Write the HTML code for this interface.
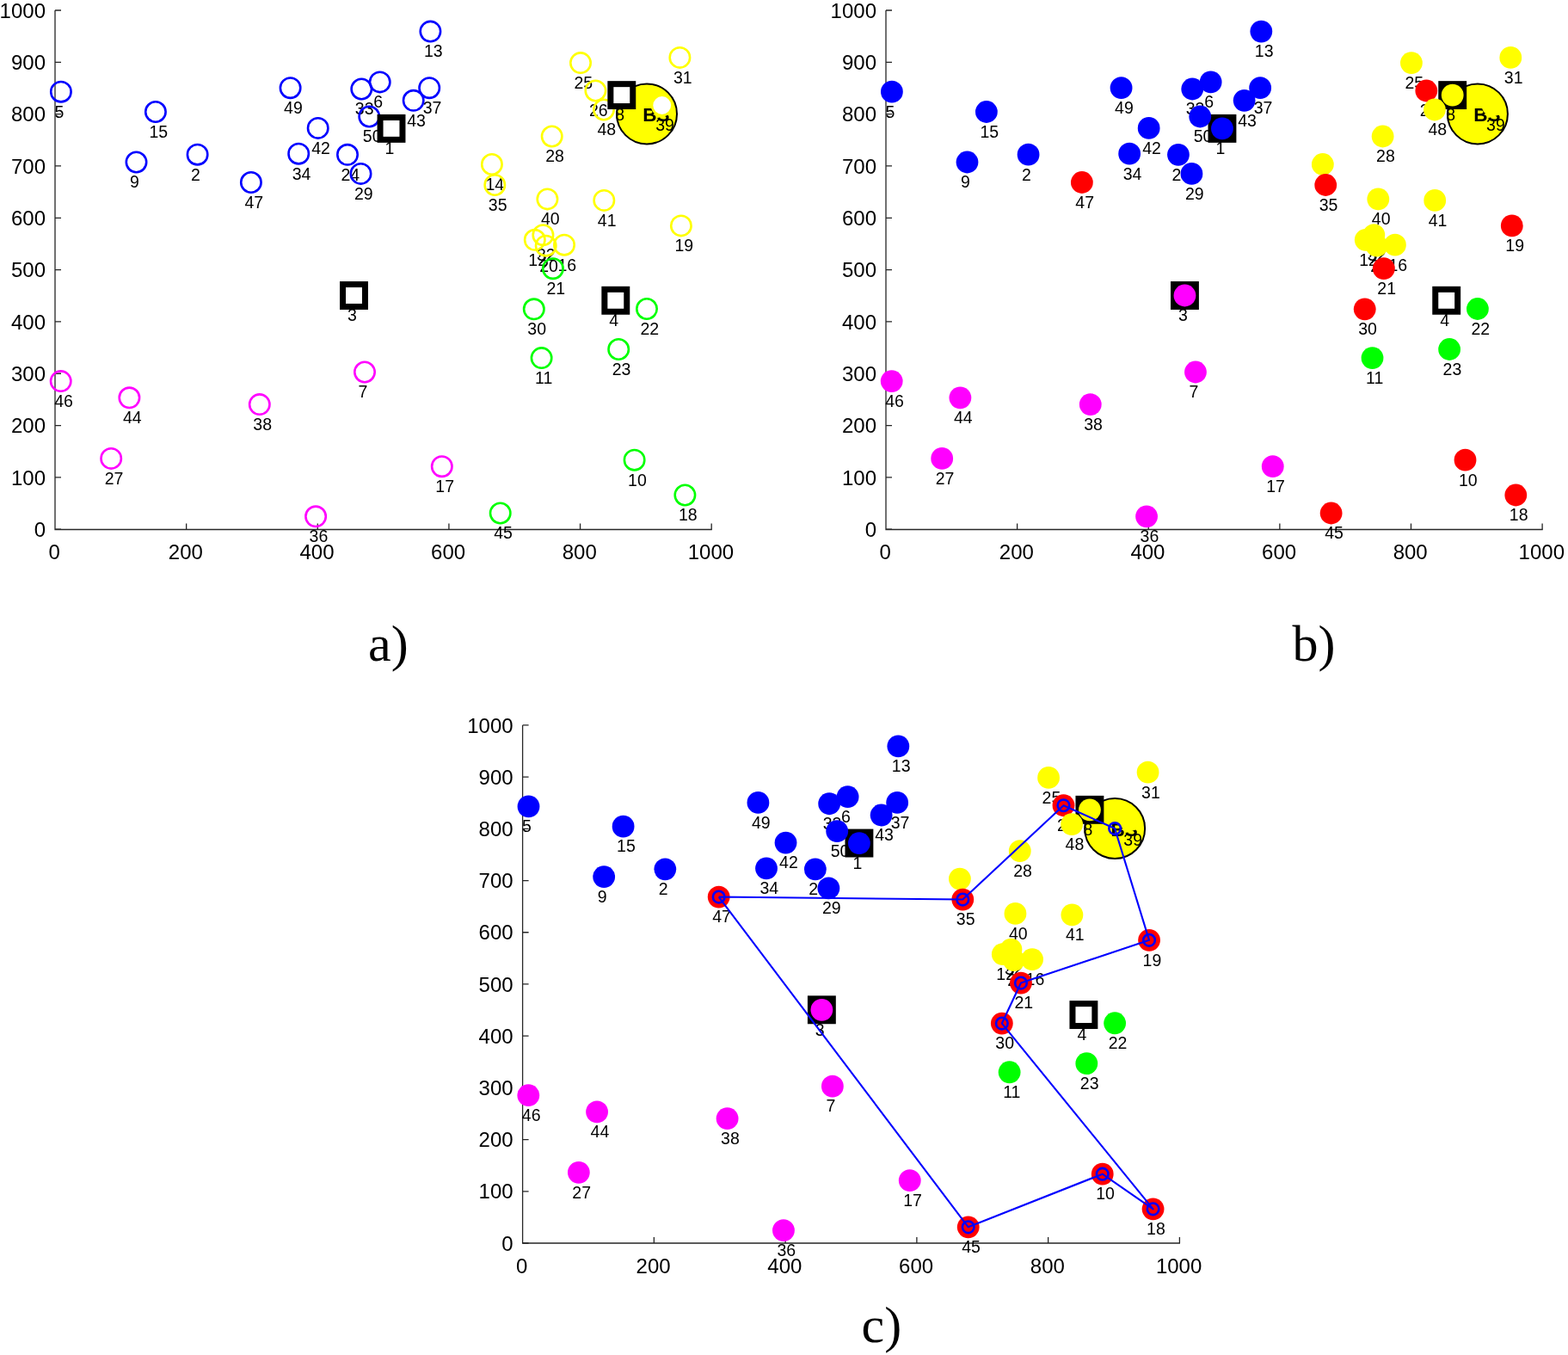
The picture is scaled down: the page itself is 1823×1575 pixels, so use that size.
<!DOCTYPE html>
<html><head><meta charset="utf-8"><title>Clustering figure</title>
<style>
html,body{margin:0;padding:0;background:#fff;}
body{width:1823px;height:1575px;overflow:hidden;}
svg{display:block;font-family:"Liberation Sans",sans-serif;}
</style></head><body>
<svg width="1823" height="1575" viewBox="0 0 1823 1575">
<rect width="1823" height="1575" fill="#fff"/>
<path d="M64 12V615.5H827.8" fill="none" stroke="#262626" stroke-width="1.3"/>
<path d="M64 615.2h7M64 554.88h7M64 494.56h7M64 434.24h7M64 373.92h7M64 313.6h7M64 253.28h7M64 192.96h7M64 132.64h7M64 72.32h7M64 12h7M216.64 615.5v-7M369.28 615.5v-7M521.92 615.5v-7M674.56 615.5v-7M827.2 615.5v-7" stroke="#262626" stroke-width="1.3"/>
<g font-size="24" fill="#000"><text x="53" y="623.9" text-anchor="end">0</text><text x="53" y="563.58" text-anchor="end">100</text><text x="53" y="503.26" text-anchor="end">200</text><text x="53" y="442.94" text-anchor="end">300</text><text x="53" y="382.62" text-anchor="end">400</text><text x="53" y="322.3" text-anchor="end">500</text><text x="53" y="261.98" text-anchor="end">600</text><text x="53" y="201.66" text-anchor="end">700</text><text x="53" y="141.34" text-anchor="end">800</text><text x="53" y="81.02" text-anchor="end">900</text><text x="53" y="20.7" text-anchor="end">1000</text><text x="63.2" y="650.3" text-anchor="middle">0</text><text x="215.84" y="650.3" text-anchor="middle">200</text><text x="368.48" y="650.3" text-anchor="middle">400</text><text x="521.12" y="650.3" text-anchor="middle">600</text><text x="673.76" y="650.3" text-anchor="middle">800</text><text x="826.4" y="650.3" text-anchor="middle">1000</text></g>
<circle cx="752" cy="132.4" r="35.0" fill="#ffff00" stroke="#000" stroke-width="2.0"/><text x="747.3" y="141.4" font-size="22.5" font-weight="bold" fill="#000">BS</text>
<g font-size="19.5" fill="#000"><text x="447.5" y="179.2">1</text><text x="222.1" y="209.5">2</text><text x="404" y="373.3">3</text><text x="708.3" y="379.1">4</text><text x="63.4" y="136.5">5</text><text x="434.2" y="125.2">6</text><text x="416.5" y="462.3">7</text><text x="715.3" y="140.4">8</text><text x="151" y="218.3">9</text><text x="730.1" y="564.5">10</text><text x="622.1" y="445.9">11</text><text x="614.3" y="308.6">12</text><text x="492.9" y="66.4">13</text><text x="564.4" y="220.8">14</text><text x="173.4" y="159.8">15</text><text x="648.5" y="314.5">16</text><text x="506.3" y="572">17</text><text x="788.9" y="605.3">18</text><text x="784.4" y="292.2">19</text><text x="627.2" y="315.5">20</text><text x="635.4" y="342">21</text><text x="744.5" y="388.8">22</text><text x="711.7" y="435.8">23</text><text x="396.5" y="209.6">24</text><text x="667.5" y="102.9">25</text><text x="684.9" y="135.3">26</text><text x="121.7" y="562.7">27</text><text x="634.2" y="188.3">28</text><text x="412" y="231.7">29</text><text x="613.3" y="389.1">30</text><text x="782.9" y="96.7">31</text><text x="623.9" y="303">32</text><text x="412.8" y="133.3">33</text><text x="339.7" y="208.5">34</text><text x="567.8" y="244.8">35</text><text x="359.6" y="630.1">36</text><text x="491.7" y="132">37</text><text x="294.3" y="499.9">38</text><text x="762.2" y="152.3">39</text><text x="628.9" y="261.2">40</text><text x="694.8" y="262.7">41</text><text x="362.2" y="178.7">42</text><text x="473.2" y="146.6">43</text><text x="142.9" y="492.1">44</text><text x="574.2" y="626.3">45</text><text x="63.2" y="472.9">46</text><text x="284.4" y="241.8">47</text><text x="694.5" y="157.3">48</text><text x="330.1" y="132">49</text><text x="421.8" y="165.3">50</text></g>
<g stroke-width="2.6"><circle cx="229.6" cy="179.7" r="11.7" fill="none" stroke="#0000ff"/><circle cx="70.9" cy="106.7" r="11.7" fill="none" stroke="#0000ff"/><circle cx="441.7" cy="95.4" r="11.7" fill="none" stroke="#0000ff"/><circle cx="424" cy="432.5" r="11.7" fill="none" stroke="#ff00ff"/><circle cx="158.5" cy="188.5" r="11.7" fill="none" stroke="#0000ff"/><circle cx="737.6" cy="534.7" r="11.7" fill="none" stroke="#00ff00"/><circle cx="629.6" cy="416.1" r="11.7" fill="none" stroke="#00ff00"/><circle cx="621.8" cy="278.8" r="11.7" fill="none" stroke="#ffff00"/><circle cx="500.4" cy="36.6" r="11.7" fill="none" stroke="#0000ff"/><circle cx="571.9" cy="191" r="11.7" fill="none" stroke="#ffff00"/><circle cx="180.9" cy="130" r="11.7" fill="none" stroke="#0000ff"/><circle cx="656" cy="284.7" r="11.7" fill="none" stroke="#ffff00"/><circle cx="513.8" cy="542.2" r="11.7" fill="none" stroke="#ff00ff"/><circle cx="796.4" cy="575.5" r="11.7" fill="none" stroke="#00ff00"/><circle cx="791.9" cy="262.4" r="11.7" fill="none" stroke="#ffff00"/><circle cx="634.7" cy="285.7" r="11.7" fill="none" stroke="#ffff00"/><circle cx="642.9" cy="312.2" r="11.7" fill="none" stroke="#00ff00"/><circle cx="752" cy="359" r="11.7" fill="none" stroke="#00ff00"/><circle cx="719.2" cy="406" r="11.7" fill="none" stroke="#00ff00"/><circle cx="404" cy="179.8" r="11.7" fill="none" stroke="#0000ff"/><circle cx="675" cy="73.1" r="11.7" fill="none" stroke="#ffff00"/><circle cx="692.4" cy="105.5" r="11.7" fill="none" stroke="#ffff00"/><circle cx="129.2" cy="532.9" r="11.7" fill="none" stroke="#ff00ff"/><circle cx="641.7" cy="158.5" r="11.7" fill="none" stroke="#ffff00"/><circle cx="419.5" cy="201.9" r="11.7" fill="none" stroke="#0000ff"/><circle cx="620.8" cy="359.3" r="11.7" fill="none" stroke="#00ff00"/><circle cx="790.4" cy="66.9" r="11.7" fill="none" stroke="#ffff00"/><circle cx="631.4" cy="273.2" r="11.7" fill="none" stroke="#ffff00"/><circle cx="420.3" cy="103.5" r="11.7" fill="none" stroke="#0000ff"/><circle cx="347.2" cy="178.7" r="11.7" fill="none" stroke="#0000ff"/><circle cx="575.3" cy="215" r="11.7" fill="none" stroke="#ffff00"/><circle cx="367.1" cy="600.3" r="11.7" fill="none" stroke="#ff00ff"/><circle cx="499.2" cy="102.2" r="11.7" fill="none" stroke="#0000ff"/><circle cx="301.8" cy="470.1" r="11.7" fill="none" stroke="#ff00ff"/><circle cx="769.7" cy="122.5" r="11.7" fill="#fff" stroke="#ffff00"/><circle cx="636.4" cy="231.4" r="11.7" fill="none" stroke="#ffff00"/><circle cx="702.3" cy="232.9" r="11.7" fill="none" stroke="#ffff00"/><circle cx="369.7" cy="148.9" r="11.7" fill="none" stroke="#0000ff"/><circle cx="480.7" cy="116.8" r="11.7" fill="none" stroke="#0000ff"/><circle cx="150.4" cy="462.3" r="11.7" fill="none" stroke="#ff00ff"/><circle cx="581.7" cy="596.5" r="11.7" fill="none" stroke="#00ff00"/><circle cx="70.7" cy="443.1" r="11.7" fill="none" stroke="#ff00ff"/><circle cx="291.9" cy="212" r="11.7" fill="none" stroke="#0000ff"/><circle cx="702" cy="127.5" r="11.7" fill="none" stroke="#ffff00"/><circle cx="337.6" cy="102.2" r="11.7" fill="none" stroke="#0000ff"/><circle cx="429.3" cy="135.5" r="11.7" fill="none" stroke="#0000ff"/></g>
<g fill="#fff" stroke="#000" stroke-width="7.0"><rect x="442.05" y="136.45" width="25.9" height="25.9"/><rect x="398.55" y="330.55" width="25.9" height="25.9"/><rect x="702.85" y="336.35" width="25.9" height="25.9"/><rect x="709.85" y="97.65" width="25.9" height="25.9"/></g>
<path d="M1030 12V615.5H1793.7" fill="none" stroke="#262626" stroke-width="1.3"/>
<path d="M1030 615.2h7M1030 554.88h7M1030 494.56h7M1030 434.24h7M1030 373.92h7M1030 313.6h7M1030 253.28h7M1030 192.96h7M1030 132.64h7M1030 72.32h7M1030 12h7M1182.62 615.5v-7M1335.24 615.5v-7M1487.86 615.5v-7M1640.48 615.5v-7M1793.1 615.5v-7" stroke="#262626" stroke-width="1.3"/>
<g font-size="24" fill="#000"><text x="1019" y="623.9" text-anchor="end">0</text><text x="1019" y="563.58" text-anchor="end">100</text><text x="1019" y="503.26" text-anchor="end">200</text><text x="1019" y="442.94" text-anchor="end">300</text><text x="1019" y="382.62" text-anchor="end">400</text><text x="1019" y="322.3" text-anchor="end">500</text><text x="1019" y="261.98" text-anchor="end">600</text><text x="1019" y="201.66" text-anchor="end">700</text><text x="1019" y="141.34" text-anchor="end">800</text><text x="1019" y="81.02" text-anchor="end">900</text><text x="1019" y="20.7" text-anchor="end">1000</text><text x="1029.2" y="650.3" text-anchor="middle">0</text><text x="1181.82" y="650.3" text-anchor="middle">200</text><text x="1334.44" y="650.3" text-anchor="middle">400</text><text x="1487.06" y="650.3" text-anchor="middle">600</text><text x="1639.68" y="650.3" text-anchor="middle">800</text><text x="1792.3" y="650.3" text-anchor="middle">1000</text></g>
<circle cx="1717.91" cy="132.4" r="35.0" fill="#ffff00" stroke="#000" stroke-width="2.0"/><text x="1713.21" y="141.4" font-size="22.5" font-weight="bold" fill="#000">BS</text>
<g font-size="19.5" fill="#000"><text x="1413.45" y="179.2">1</text><text x="1188.08" y="209.5">2</text><text x="1369.95" y="373.3">3</text><text x="1674.21" y="379.1">4</text><text x="1029.4" y="136.5">5</text><text x="1400.15" y="125.2">6</text><text x="1382.45" y="462.3">7</text><text x="1681.21" y="140.4">8</text><text x="1116.99" y="218.3">9</text><text x="1696.01" y="564.5">10</text><text x="1588.03" y="445.9">11</text><text x="1580.23" y="308.6">12</text><text x="1458.84" y="66.4">13</text><text x="1530.33" y="220.8">14</text><text x="1139.38" y="159.8">15</text><text x="1614.42" y="314.5">16</text><text x="1472.24" y="572">17</text><text x="1754.8" y="605.3">18</text><text x="1750.3" y="292.2">19</text><text x="1593.13" y="315.5">20</text><text x="1601.32" y="342">21</text><text x="1710.41" y="388.8">22</text><text x="1677.61" y="435.8">23</text><text x="1362.46" y="209.6">24</text><text x="1633.42" y="102.9">25</text><text x="1650.82" y="135.3">26</text><text x="1087.69" y="562.7">27</text><text x="1600.12" y="188.3">28</text><text x="1377.95" y="231.7">29</text><text x="1579.23" y="389.1">30</text><text x="1748.8" y="96.7">31</text><text x="1589.83" y="303">32</text><text x="1378.75" y="133.3">33</text><text x="1305.66" y="208.5">34</text><text x="1533.73" y="244.8">35</text><text x="1325.56" y="630.1">36</text><text x="1457.64" y="132">37</text><text x="1260.27" y="499.9">38</text><text x="1728.11" y="152.3">39</text><text x="1594.82" y="261.2">40</text><text x="1660.72" y="262.7">41</text><text x="1328.16" y="178.7">42</text><text x="1439.15" y="146.6">43</text><text x="1108.89" y="492.1">44</text><text x="1540.13" y="626.3">45</text><text x="1029.2" y="472.9">46</text><text x="1250.37" y="241.8">47</text><text x="1660.42" y="157.3">48</text><text x="1296.06" y="132">49</text><text x="1387.75" y="165.3">50</text></g>
<g fill="#fff" stroke="#000" stroke-width="7.0"><rect x="1408" y="136.45" width="25.9" height="25.9" fill="#000"/><rect x="1364.5" y="330.55" width="25.9" height="25.9" fill="#000"/><rect x="1668.76" y="336.35" width="25.9" height="25.9"/><rect x="1675.76" y="97.65" width="25.9" height="25.9" fill="#000"/></g>
<g><circle cx="1420.95" cy="149.4" r="12.9" fill="#0000ff"/><circle cx="1195.58" cy="179.7" r="12.9" fill="#0000ff"/><circle cx="1377.45" cy="343.5" r="12.9" fill="#ff00ff"/><circle cx="1036.9" cy="106.7" r="12.9" fill="#0000ff"/><circle cx="1407.65" cy="95.4" r="12.9" fill="#0000ff"/><circle cx="1389.95" cy="432.5" r="12.9" fill="#ff00ff"/><circle cx="1688.71" cy="110.6" r="12.9" fill="#ffff00"/><circle cx="1124.49" cy="188.5" r="12.9" fill="#0000ff"/><circle cx="1703.51" cy="534.7" r="12.9" fill="#ff0000"/><circle cx="1595.53" cy="416.1" r="12.9" fill="#00ff00"/><circle cx="1587.73" cy="278.8" r="12.9" fill="#ffff00"/><circle cx="1466.34" cy="36.6" r="12.9" fill="#0000ff"/><circle cx="1537.83" cy="191" r="12.9" fill="#ffff00"/><circle cx="1146.88" cy="130" r="12.9" fill="#0000ff"/><circle cx="1621.92" cy="284.7" r="12.9" fill="#ffff00"/><circle cx="1479.74" cy="542.2" r="12.9" fill="#ff00ff"/><circle cx="1762.3" cy="575.5" r="12.9" fill="#ff0000"/><circle cx="1757.8" cy="262.4" r="12.9" fill="#ff0000"/><circle cx="1600.63" cy="285.7" r="12.9" fill="#ffff00"/><circle cx="1608.82" cy="312.2" r="12.9" fill="#ff0000"/><circle cx="1717.91" cy="359" r="12.9" fill="#00ff00"/><circle cx="1685.11" cy="406" r="12.9" fill="#00ff00"/><circle cx="1369.96" cy="179.8" r="12.9" fill="#0000ff"/><circle cx="1640.92" cy="73.1" r="12.9" fill="#ffff00"/><circle cx="1658.32" cy="105.5" r="12.9" fill="#ff0000"/><circle cx="1095.19" cy="532.9" r="12.9" fill="#ff00ff"/><circle cx="1607.62" cy="158.5" r="12.9" fill="#ffff00"/><circle cx="1385.45" cy="201.9" r="12.9" fill="#0000ff"/><circle cx="1586.73" cy="359.3" r="12.9" fill="#ff0000"/><circle cx="1756.3" cy="66.9" r="12.9" fill="#ffff00"/><circle cx="1597.33" cy="273.2" r="12.9" fill="#ffff00"/><circle cx="1386.25" cy="103.5" r="12.9" fill="#0000ff"/><circle cx="1313.16" cy="178.7" r="12.9" fill="#0000ff"/><circle cx="1541.23" cy="215" r="12.9" fill="#ff0000"/><circle cx="1333.06" cy="600.3" r="12.9" fill="#ff00ff"/><circle cx="1465.14" cy="102.2" r="12.9" fill="#0000ff"/><circle cx="1267.77" cy="470.1" r="12.9" fill="#ff00ff"/><circle cx="1735.61" cy="122.5" r="12.9" fill="#ffff00"/><circle cx="1602.32" cy="231.4" r="12.9" fill="#ffff00"/><circle cx="1668.22" cy="232.9" r="12.9" fill="#ffff00"/><circle cx="1335.66" cy="148.9" r="12.9" fill="#0000ff"/><circle cx="1446.65" cy="116.8" r="12.9" fill="#0000ff"/><circle cx="1116.39" cy="462.3" r="12.9" fill="#ff00ff"/><circle cx="1547.63" cy="596.5" r="12.9" fill="#ff0000"/><circle cx="1036.7" cy="443.1" r="12.9" fill="#ff00ff"/><circle cx="1257.87" cy="212" r="12.9" fill="#ff0000"/><circle cx="1667.92" cy="127.5" r="12.9" fill="#ffff00"/><circle cx="1303.56" cy="102.2" r="12.9" fill="#0000ff"/><circle cx="1395.25" cy="135.5" r="12.9" fill="#0000ff"/></g>
<path d="M607.6 842.9V1445H1372" fill="none" stroke="#262626" stroke-width="1.3"/>
<path d="M607.6 1445h7M607.6 1384.79h7M607.6 1324.58h7M607.6 1264.37h7M607.6 1204.16h7M607.6 1143.95h7M607.6 1083.74h7M607.6 1023.53h7M607.6 963.32h7M607.6 903.11h7M607.6 842.9h7M760.36 1445v-7M913.12 1445v-7M1065.88 1445v-7M1218.64 1445v-7M1371.4 1445v-7" stroke="#262626" stroke-width="1.3"/>
<g font-size="24" fill="#000"><text x="596.6" y="1453.7" text-anchor="end">0</text><text x="596.6" y="1393.49" text-anchor="end">100</text><text x="596.6" y="1333.28" text-anchor="end">200</text><text x="596.6" y="1273.07" text-anchor="end">300</text><text x="596.6" y="1212.86" text-anchor="end">400</text><text x="596.6" y="1152.65" text-anchor="end">500</text><text x="596.6" y="1092.44" text-anchor="end">600</text><text x="596.6" y="1032.23" text-anchor="end">700</text><text x="596.6" y="972.02" text-anchor="end">800</text><text x="596.6" y="911.81" text-anchor="end">900</text><text x="596.6" y="851.6" text-anchor="end">1000</text><text x="606.8" y="1480.1" text-anchor="middle">0</text><text x="759.56" y="1480.1" text-anchor="middle">200</text><text x="912.32" y="1480.1" text-anchor="middle">400</text><text x="1065.08" y="1480.1" text-anchor="middle">600</text><text x="1217.84" y="1480.1" text-anchor="middle">800</text><text x="1370.6" y="1480.1" text-anchor="middle">1000</text></g>
<circle cx="1296.14" cy="963.08" r="35.0" fill="#ffff00" stroke="#000" stroke-width="2.0"/><text x="1291.44" y="972.08" font-size="22.5" font-weight="bold" fill="#000">BS</text>
<g font-size="19.5" fill="#000"><text x="991.41" y="1009.85">1</text><text x="765.83" y="1040.09">2</text><text x="947.87" y="1203.6">3</text><text x="1252.41" y="1209.38">4</text><text x="607.01" y="967.23">5</text><text x="978.1" y="955.95">6</text><text x="960.38" y="1292.43">7</text><text x="1259.42" y="971.12">8</text><text x="694.67" y="1048.88">9</text><text x="1274.23" y="1394.45">10</text><text x="1166.14" y="1276.06">11</text><text x="1158.34" y="1139.01">12</text><text x="1036.84" y="897.26">13</text><text x="1108.4" y="1051.37">14</text><text x="717.09" y="990.48">15</text><text x="1192.57" y="1144.9">16</text><text x="1050.25" y="1401.93">17</text><text x="1333.08" y="1435.17">18</text><text x="1328.57" y="1122.64">19</text><text x="1171.25" y="1145.9">20</text><text x="1179.46" y="1172.35">21</text><text x="1288.64" y="1219.07">22</text><text x="1255.82" y="1265.98">23</text><text x="940.37" y="1040.19">24</text><text x="1211.58" y="933.69">25</text><text x="1228.99" y="966.03">26</text><text x="665.35" y="1392.65">27</text><text x="1178.25" y="1018.93">28</text><text x="955.88" y="1062.25">29</text><text x="1157.34" y="1219.37">30</text><text x="1327.07" y="927.5">31</text><text x="1167.95" y="1133.42">32</text><text x="956.68" y="964.03">33</text><text x="883.52" y="1039.1">34</text><text x="1111.8" y="1075.33">35</text><text x="903.44" y="1459.93">36</text><text x="1035.64" y="962.74">37</text><text x="838.09" y="1329.96">38</text><text x="1306.35" y="983">39</text><text x="1172.95" y="1091.7">40</text><text x="1238.9" y="1093.2">41</text><text x="906.04" y="1009.35">42</text><text x="1017.13" y="977.31">43</text><text x="686.57" y="1322.18">44</text><text x="1118.21" y="1456.13">45</text><text x="606.81" y="1303.01">46</text><text x="828.18" y="1072.34">47</text><text x="1238.6" y="987.99">48</text><text x="873.92" y="962.74">49</text><text x="965.69" y="995.97">50</text></g>
<g fill="#fff" stroke="#000" stroke-width="7.0"><rect x="985.96" y="967.1" width="25.9" height="25.9" fill="#000"/><rect x="942.42" y="1160.85" width="25.9" height="25.9" fill="#000"/><rect x="1246.96" y="1166.63" width="25.9" height="25.9"/><rect x="1253.97" y="928.37" width="25.9" height="25.9" fill="#000"/></g>
<g><circle cx="998.91" cy="980.05" r="12.9" fill="#0000ff"/><circle cx="773.33" cy="1010.29" r="12.9" fill="#0000ff"/><circle cx="955.37" cy="1173.8" r="12.9" fill="#ff00ff"/><circle cx="614.51" cy="937.43" r="12.9" fill="#0000ff"/><circle cx="985.6" cy="926.15" r="12.9" fill="#0000ff"/><circle cx="967.88" cy="1262.63" r="12.9" fill="#ff00ff"/><circle cx="1266.92" cy="941.32" r="12.9" fill="#ffff00"/><circle cx="702.17" cy="1019.08" r="12.9" fill="#0000ff"/><circle cx="1281.73" cy="1364.65" r="12.9" fill="#ff0000"/><circle cx="1173.64" cy="1246.26" r="12.9" fill="#00ff00"/><circle cx="1165.84" cy="1109.21" r="12.9" fill="#ffff00"/><circle cx="1044.34" cy="867.46" r="12.9" fill="#0000ff"/><circle cx="1115.9" cy="1021.57" r="12.9" fill="#ffff00"/><circle cx="724.59" cy="960.68" r="12.9" fill="#0000ff"/><circle cx="1200.07" cy="1115.1" r="12.9" fill="#ffff00"/><circle cx="1057.75" cy="1372.13" r="12.9" fill="#ff00ff"/><circle cx="1340.58" cy="1405.37" r="12.9" fill="#ff0000"/><circle cx="1336.07" cy="1092.84" r="12.9" fill="#ff0000"/><circle cx="1178.75" cy="1116.1" r="12.9" fill="#ffff00"/><circle cx="1186.96" cy="1142.55" r="12.9" fill="#ff0000"/><circle cx="1296.14" cy="1189.27" r="12.9" fill="#00ff00"/><circle cx="1263.32" cy="1236.18" r="12.9" fill="#00ff00"/><circle cx="947.87" cy="1010.39" r="12.9" fill="#0000ff"/><circle cx="1219.08" cy="903.89" r="12.9" fill="#ffff00"/><circle cx="1236.49" cy="936.23" r="12.9" fill="#ff0000"/><circle cx="672.85" cy="1362.85" r="12.9" fill="#ff00ff"/><circle cx="1185.75" cy="989.13" r="12.9" fill="#ffff00"/><circle cx="963.38" cy="1032.45" r="12.9" fill="#0000ff"/><circle cx="1164.84" cy="1189.57" r="12.9" fill="#ff0000"/><circle cx="1334.57" cy="897.7" r="12.9" fill="#ffff00"/><circle cx="1175.45" cy="1103.62" r="12.9" fill="#ffff00"/><circle cx="964.18" cy="934.23" r="12.9" fill="#0000ff"/><circle cx="891.02" cy="1009.3" r="12.9" fill="#0000ff"/><circle cx="1119.3" cy="1045.53" r="12.9" fill="#ff0000"/><circle cx="910.94" cy="1430.13" r="12.9" fill="#ff00ff"/><circle cx="1043.14" cy="932.94" r="12.9" fill="#0000ff"/><circle cx="845.59" cy="1300.16" r="12.9" fill="#ff00ff"/><circle cx="1313.85" cy="953.2" r="12.9" fill="#ffff00"/><circle cx="1180.45" cy="1061.9" r="12.9" fill="#ffff00"/><circle cx="1246.4" cy="1063.4" r="12.9" fill="#ffff00"/><circle cx="913.54" cy="979.55" r="12.9" fill="#0000ff"/><circle cx="1024.63" cy="947.51" r="12.9" fill="#0000ff"/><circle cx="694.07" cy="1292.38" r="12.9" fill="#ff00ff"/><circle cx="1125.71" cy="1426.33" r="12.9" fill="#ff0000"/><circle cx="614.31" cy="1273.21" r="12.9" fill="#ff00ff"/><circle cx="835.68" cy="1042.54" r="12.9" fill="#ff0000"/><circle cx="1246.1" cy="958.19" r="12.9" fill="#ffff00"/><circle cx="881.42" cy="932.94" r="12.9" fill="#0000ff"/><circle cx="973.19" cy="966.17" r="12.9" fill="#0000ff"/></g>
<path d="M835.68 1042.54L1119.3 1045.53L1236.49 936.23L1296.14 963.08L1336.07 1092.84L1186.96 1142.55L1164.84 1189.57L1340.58 1405.37L1281.73 1364.65L1125.71 1426.33L835.68 1042.54" fill="none" stroke="#0000ff" stroke-width="2.1" stroke-linejoin="round"/>
<g fill="none" stroke="#0000ff" stroke-width="2.6"><circle cx="835.68" cy="1042.54" r="6.8"/><circle cx="1119.3" cy="1045.53" r="6.8"/><circle cx="1236.49" cy="936.23" r="6.8"/><circle cx="1296.14" cy="963.08" r="6.8"/><circle cx="1336.07" cy="1092.84" r="6.8"/><circle cx="1186.96" cy="1142.55" r="6.8"/><circle cx="1164.84" cy="1189.57" r="6.8"/><circle cx="1340.58" cy="1405.37" r="6.8"/><circle cx="1281.73" cy="1364.65" r="6.8"/><circle cx="1125.71" cy="1426.33" r="6.8"/></g>
<text x="428" y="767.5" font-family="'Liberation Serif', serif" font-size="60" fill="#000">a)</text>
<text x="1502.5" y="767.5" font-family="'Liberation Serif', serif" font-size="60" fill="#000">b)</text>
<text x="1001.5" y="1559.5" font-family="'Liberation Serif', serif" font-size="60" fill="#000">c)</text>
</svg>
</body></html>
